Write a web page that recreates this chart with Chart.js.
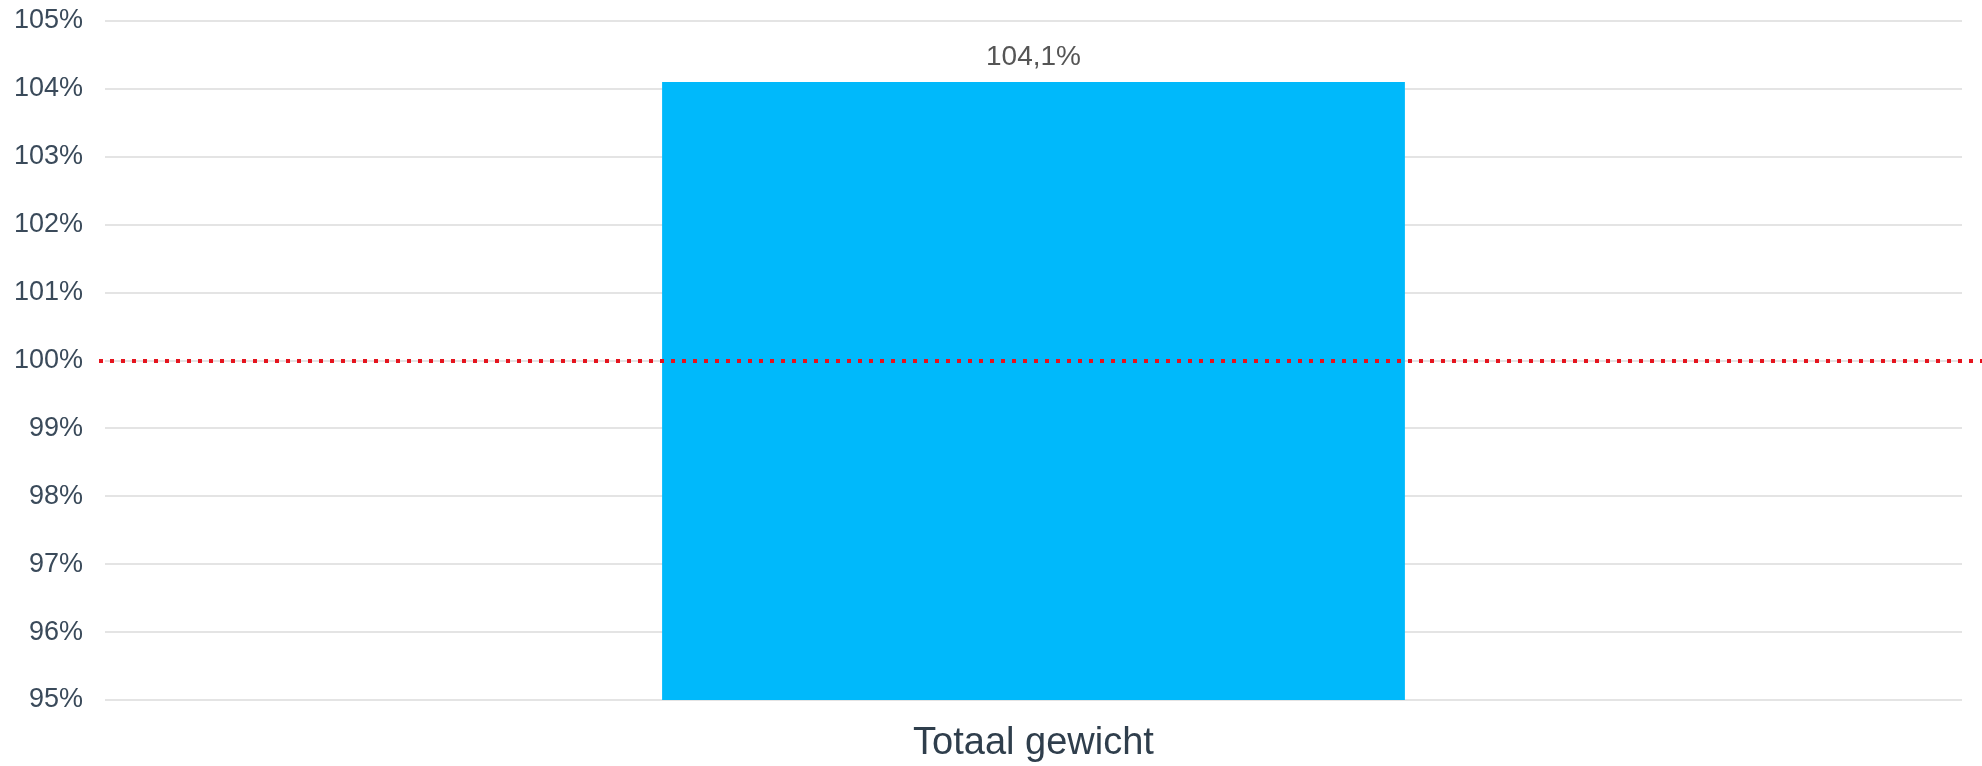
<!DOCTYPE html>
<html>
<head>
<meta charset="utf-8">
<script src="https://cdn.jsdelivr.net/npm/chart.js@4"></script>
<style>
  html, body { margin: 0; padding: 0; background: #fff; }
  #wrap { width: 1982px; height: 766px; }
</style>
</head>
<body>
<div id="wrap"><canvas id="bar-chart" width="1982" height="766"></canvas></div>
<script>
const categories = ['Totaal gewicht'];
const values = [104.1];
const yMin = 95;
const yMax = 105;
const yStep = 1;
const referenceLine = 100;

const fontFamily = '"Liberation Sans", Arial, sans-serif';

// red dotted reference line at 100%
const refLinePlugin = {
  id: 'refLine',
  afterDatasetsDraw(chart) {
    const ctx = chart.ctx;
    const y = Math.round(chart.scales.y.getPixelForValue(referenceLine));
    ctx.save();
    ctx.strokeStyle = '#e5141e';
    ctx.lineWidth = 4;
    ctx.setLineDash([4, 7]);
    ctx.beginPath();
    ctx.moveTo(chart.chartArea.left - 6, y);
    ctx.lineTo(chart.width, y);
    ctx.stroke();
    ctx.restore();
  }
};

// value label above the bar
const valueLabelPlugin = {
  id: 'valueLabel',
  afterDatasetsDraw(chart) {
    const ctx = chart.ctx;
    const meta = chart.getDatasetMeta(0);
    ctx.save();
    ctx.fillStyle = '#555555';
    ctx.font = '28px ' + fontFamily;
    ctx.textAlign = 'center';
    ctx.textBaseline = 'middle';
    meta.data.forEach((bar, i) => {
      const txt = values[i].toFixed(1).replace('.', ',') + '%';
      ctx.fillText(txt, bar.x, bar.y - 25);
    });
    ctx.restore();
  }
};

new Chart(document.getElementById('bar-chart'), {
  type: 'bar',
  data: {
    labels: categories,
    datasets: [{
      data: values,
      backgroundColor: '#00b9fb',
      borderWidth: 0,
      barPercentage: 0.4,
      categoryPercentage: 1.0
    }]
  },
  options: {
    responsive: false,
    devicePixelRatio: 1,
    animation: false,
    layout: { padding: { top: 21, right: 20, bottom: 0, left: 0 } },
    plugins: {
      legend: { display: false },
      title: { display: false },
      tooltip: { enabled: false }
    },
    scales: {
      x: {
        afterFit(scale) { scale.height = 66; },
        grid: { display: false, drawTicks: false },
        border: { display: false },
        ticks: {
          color: '#2f3e4c',
          font: { family: fontFamily, size: 38 },
          padding: 21
        }
      },
      y: {
        min: yMin,
        max: yMax,
        afterFit(scale) {
          scale.width = 105;
          scale.paddingTop = 0;
          scale.paddingBottom = 0;
        },
        grid: { color: '#e4e4e4', lineWidth: 2, drawTicks: false },
        border: { display: false },
        ticks: {
          stepSize: yStep,
          color: '#3a4a5a',
          font: { family: fontFamily, size: 27 },
          padding: 22,
          callback: v => v + '%'
        }
      }
    }
  },
  plugins: [refLinePlugin, valueLabelPlugin]
});
</script>
</body>
</html>
